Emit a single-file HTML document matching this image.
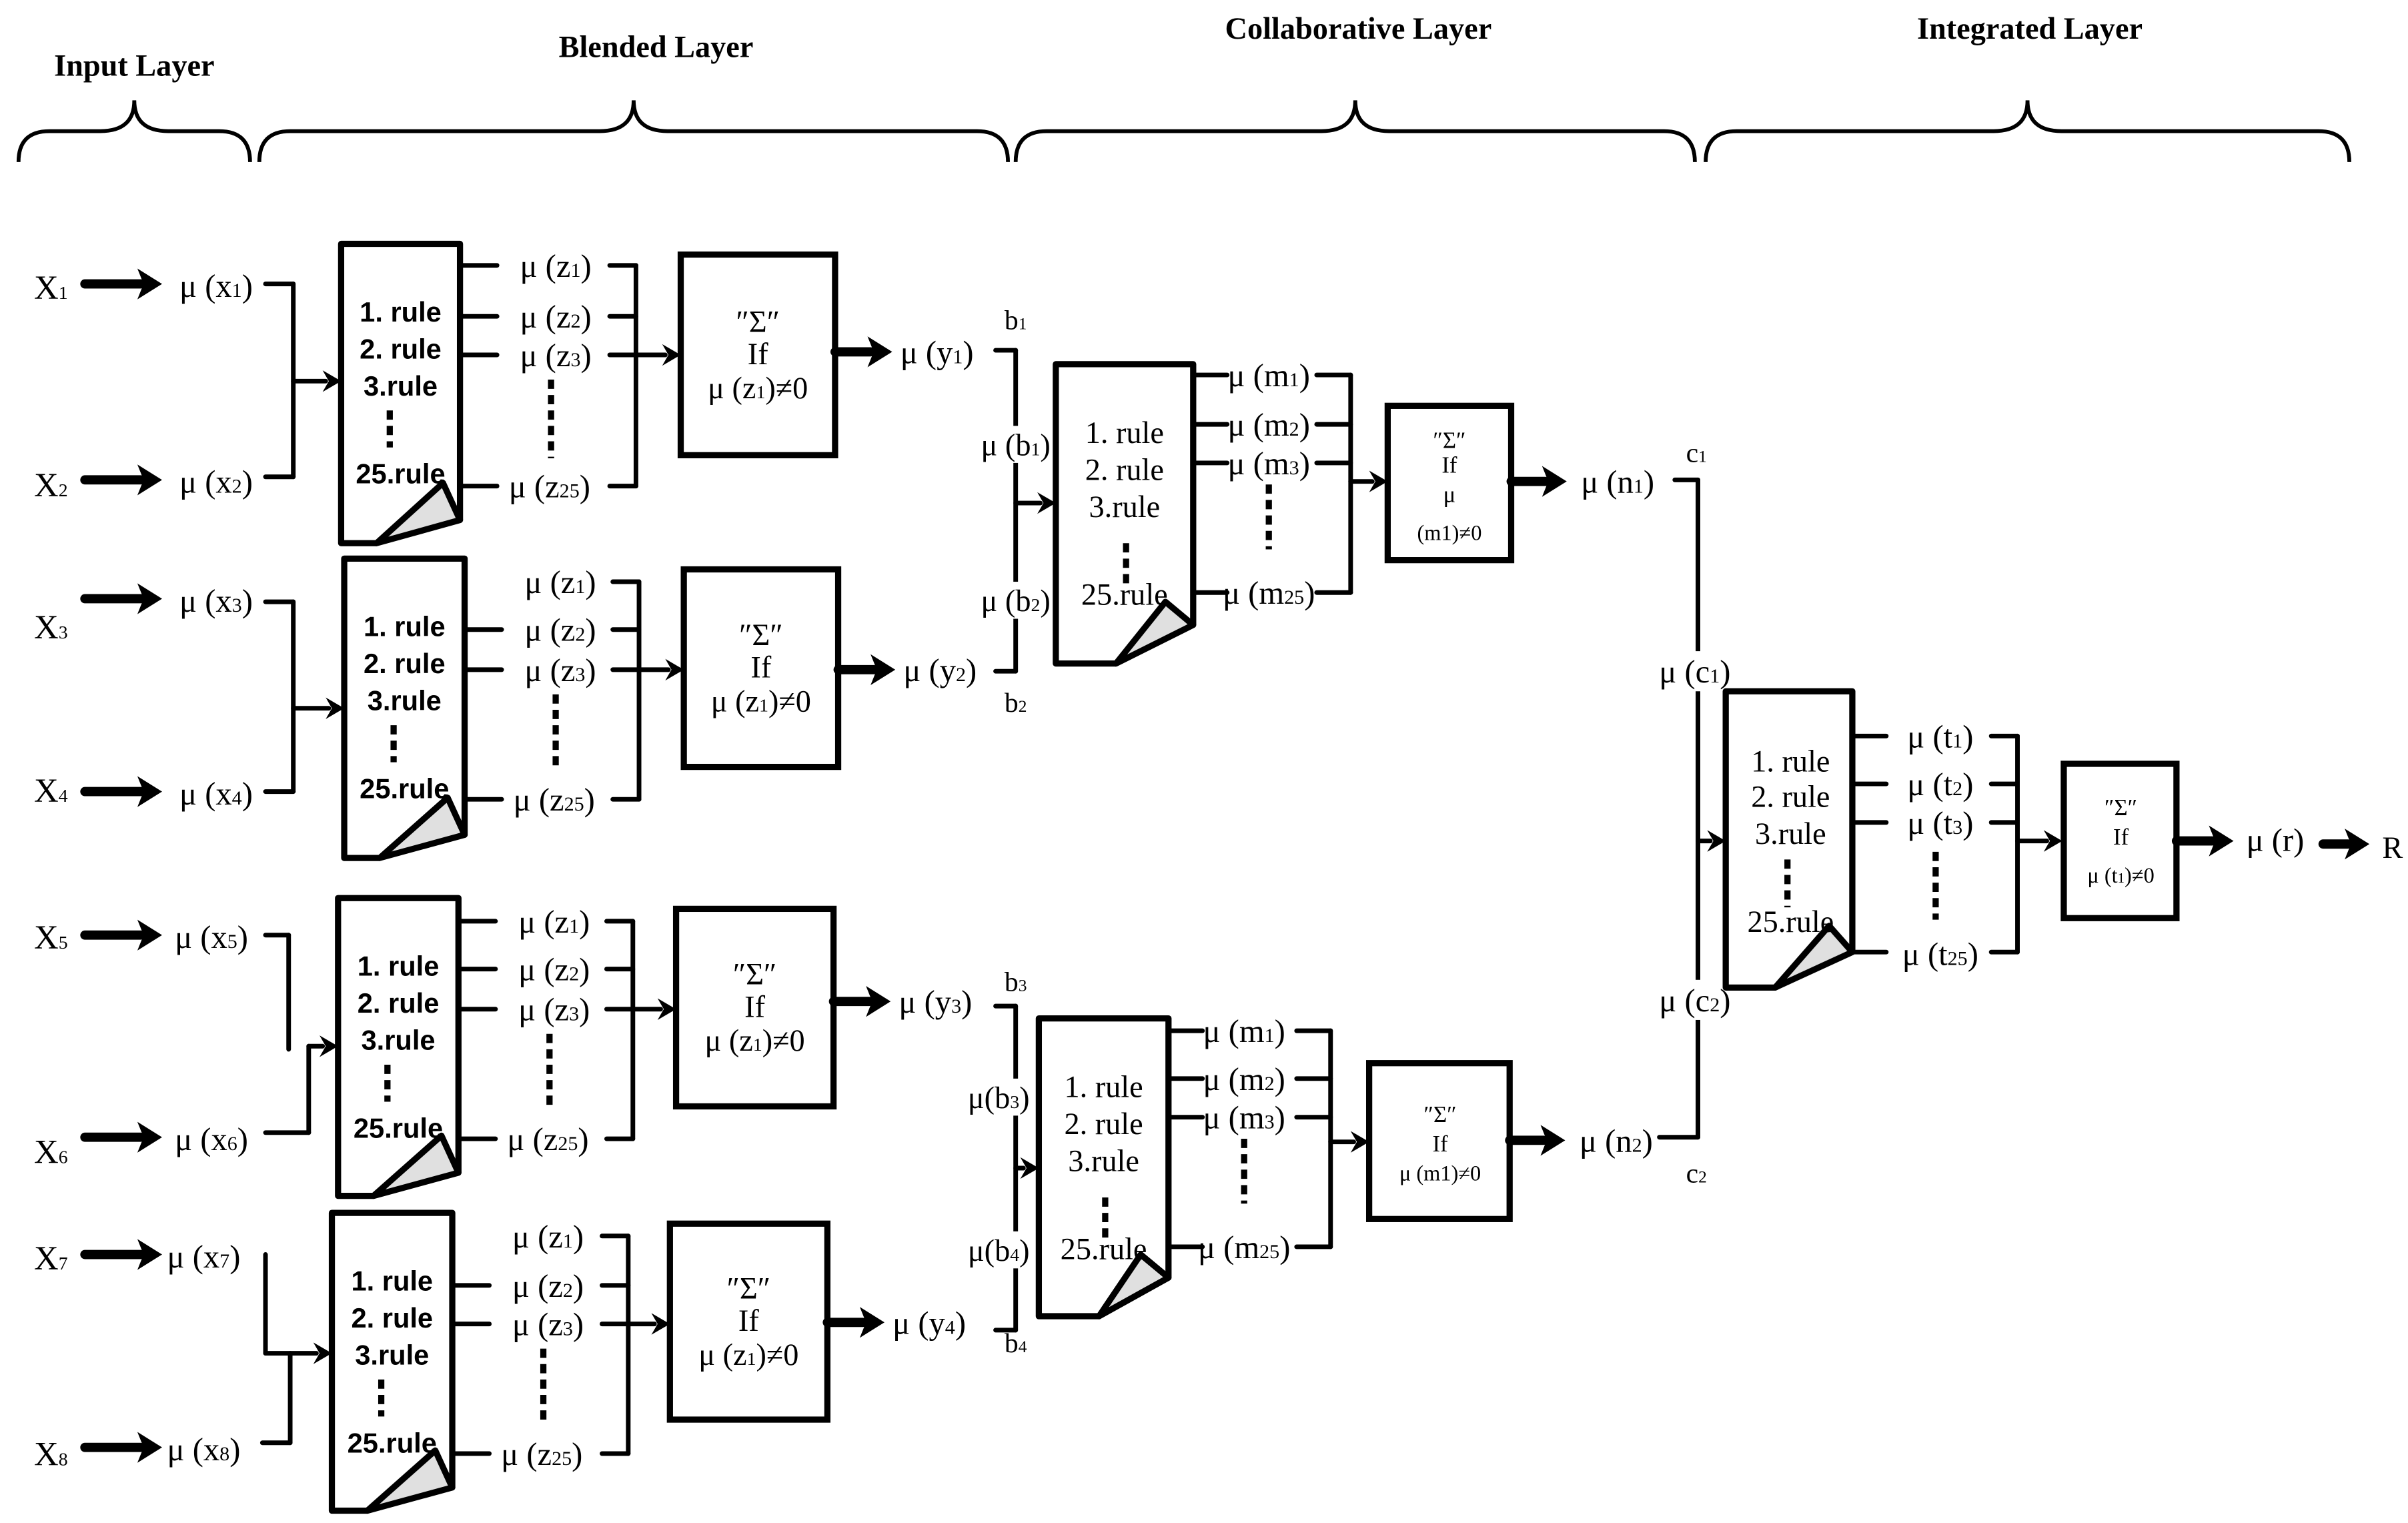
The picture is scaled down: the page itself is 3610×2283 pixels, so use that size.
<!DOCTYPE html>
<html><head><meta charset="utf-8"><style>
html,body{margin:0;padding:0;background:#fff;}
svg{display:block;}
</style></head><body>
<svg id="s" xmlns="http://www.w3.org/2000/svg" width="3610" height="2283" viewBox="0 0 1560 987" preserveAspectRatio="none"></svg>
<script>
var o='';
var SERIF='"Liberation Serif", serif', SANS='"Liberation Sans", sans-serif';
function L(x1,y1,x2,y2,w){o+='<line x1="'+x1+'" y1="'+y1+'" x2="'+x2+'" y2="'+y2+'" stroke="#000" stroke-width="'+(w||3)+'" stroke-linecap="round"/>';}
function A(x1,y,x2,thick){var hl=thick?16:12,hh=thick?10:7;L(x1,y,x2-hl+2,y,thick?6:3);o+='<polygon points="'+(x2-hl)+','+(y-hh)+' '+x2+','+y+' '+(x2-hl)+','+(y+hh)+' '+(x2-hl+4)+','+y+'" fill="#000"/>';}
function T(x,y,s,size,fam,wt){size=size||20;o+='<text x="'+x+'" y="'+(y+size*0.35)+'" font-family=\''+(fam||SERIF)+'\' font-size="'+size+'" font-weight="'+(wt||'normal')+'" text-anchor="middle" fill="#000">'+s+'</text>';}
function sub(s,size){return '<tspan font-size="'+size+'">'+s+'</tspan>';}
function mu(x,y,v,sb,size,extra){size=size||21;T(x,y,'μ ('+v+sub(sb,Math.round(size*0.6))+')'+(extra||''),size);}
function D(x,y1,y2){o+='<line x1="'+x+'" y1="'+y1+'" x2="'+x+'" y2="'+y2+'" stroke="#000" stroke-width="4" stroke-dasharray="6,4"/>';}
function doc(x1,y1,x2,y2,fx,tx,ty,ry){
 o+='<path d="M'+fx+','+y2+' L'+x1+','+y2+' L'+x1+','+y1+' L'+x2+','+y1+' L'+x2+','+ry+'" fill="#fff" stroke="#000" stroke-width="4" stroke-linejoin="round"/>';
 o+='<polygon points="'+fx+','+y2+' '+tx+','+ty+' '+x2+','+ry+'" fill="#e0e0e0" stroke="#000" stroke-width="4" stroke-linejoin="round"/>';}
function box(x1,y1,x2,y2){o+='<rect x="'+x1+'" y="'+y1+'" width="'+(x2-x1)+'" height="'+(y2-y1)+'" fill="#fff" stroke="#000" stroke-width="4"/>';}
function brace(x1,x2){var m=(x1+x2)/2;o+='<path d="M'+x1+',105 Q'+x1+',85 '+(x1+20)+',85 L'+(m-22)+',85 Q'+m+',85 '+m+',65 Q'+m+',85 '+(m+22)+',85 L'+(x2-20)+',85 Q'+x2+',85 '+x2+',105" fill="none" stroke="#000" stroke-width="2.5"/>';}
function X(x,y,n){T(x,y,'X'+sub(n,12),22);}
function rules(x,ys,dx,dy1,dy2,y25,fam,wt,sz){T(x,ys[0],'1. rule',sz,fam,wt);T(x,ys[1],'2. rule',sz,fam,wt);T(x,ys[2],'3.rule',sz,fam,wt);D(dx,dy1,dy2);T(x,y25,'25.rule',sz,fam,wt);}

T(87,42,'Input Layer',20,SERIF,'bold');T(425,30,'Blended Layer',20,SERIF,'bold');T(880,18,'Collaborative Layer',20,SERIF,'bold');T(1315,18,'Integrated Layer',20,SERIF,'bold');
brace(12,162);brace(168,653);brace(658,1098);brace(1105,1522);

function blend(c){
 X(33,c.x1y,c.n1);A(55,c.a1,105,1);mu(c.mx,c.a1+1,'x',c.n1);
 X(33,c.x2y,c.n2);A(55,c.a2,105,1);mu(c.mx,c.a2+1,'x',c.n2);
 doc(c.dx1,c.dy1,c.dx2,c.dy2,c.dx1+23,c.dx2-11,c.dy2-39,c.dy2-15);
 var rx=(c.dx1+c.dx2)/2;
 rules(rx,[c.dy1+44,c.dy1+68,c.dy1+92],rx-7,c.dy1+108,c.dy1+132,c.dy1+149,SANS,'bold',18);
 var z=c.z;
 if(c.z1line)L(c.dx2,z[0],c.dx2+24,z[0]);
 for(var i=1;i<4;i++)L(c.dx2,z[i],c.dx2+24,z[i]);
 var lx=c.dx2+62;
 mu(lx,z[0],'z','1');mu(lx,z[1],'z','2');mu(lx,z[2],'z','3');mu(lx-4,z[3],'z','25');
 D(lx-3,z[2]+16,z[3]-18);
 var bx=c.bx;
 for(i=0;i<4;i++)L(bx-17,z[i],bx,z[i]);
 L(bx,z[0],bx,z[3]);A(bx,z[2],c.b1);
 box(c.b1,c.by1,c.b2,c.by2);var cx=(c.b1+c.b2)/2,cy=(c.by1+c.by2)/2;
 T(cx,cy-22,'″Σ″',20);T(cx,cy-1,'If',20);mu(cx,cy+21,'z','1',20,'≠0');
 A(c.b2,c.yo,c.b2+37,1);mu(c.b2+66,c.yo,'y',c.yn);
}
blend({n1:'1',n2:'2',x1y:186,x2y:314,a1:184,a2:311,mx:140,dx1:221,dy1:158,dx2:298,dy2:352,z:[172,205,230,315],z1line:1,bx:412,b1:441,b2:541,by1:165,by2:295,yo:228,yn:'1'});
blend({n1:'3',n2:'4',x1y:406,x2y:512,a1:388,a2:513,mx:140,dx1:223,dy1:362,dx2:301,dy2:556,z:[377,408,434,518],z1line:0,bx:414,b1:443,b2:543,by1:369,by2:497,yo:434,yn:'2'});
blend({n1:'5',n2:'6',x1y:607,x2y:746,a1:606,a2:737,mx:137,dx1:219,dy1:582,dx2:297,dy2:775,z:[597,628,654,738],z1line:1,bx:410,b1:438,b2:540,by1:589,by2:717,yo:649,yn:'3'});
blend({n1:'7',n2:'8',x1y:815,x2y:942,a1:813,a2:938,mx:132,dx1:215,dy1:786,dx2:293,dy2:979,z:[801,833,858,942],z1line:0,bx:407,b1:434,b2:536,by1:793,by2:920,yo:857,yn:'4'});
L(172,184,190,184);L(172,309,190,309);L(190,184,190,309);A(190,247,221);
L(172,390,190,390);L(172,513,190,513);L(190,390,190,513);A(190,459,223);
L(172,606,187,606);L(187,606,187,680);L(172,734,200,734);L(200,734,200,678);A(200,678,219);
L(172,813,172,877);A(172,877,215);L(170,935,188,935);L(188,935,188,877);

function collab(c){
 T(658,c.bt,c.bl,18);L(645,c.y1,658,c.y1);L(645,c.y2,658,c.y2);L(658,c.y1,658,c.y2);
 o+='<rect x="630" y="'+(c.l1-12)+'" width="56" height="24" fill="#fff"/><rect x="630" y="'+(c.l2-12)+'" width="56" height="24" fill="#fff"/>';
 T(c.lx,c.l1,c.t1,20);T(c.lx,c.l2,c.t2,20);
 A(658,c.ay,c.dx1);
 T(658,c.bb,c.bbl,18);
 doc(c.dx1,c.dy1,c.dx2,c.dy2,c.dx1+39,c.dx2-18,c.dy2-40,c.dy2-25);
 var rx=(c.dx1+c.dx2)/2;
 rules(rx,[c.dy1+44,c.dy1+68,c.dy1+92],rx+1,c.dy1+116,c.dy1+145,c.dy1+149,SERIF,'normal',20);
 var m=c.m;for(var i=0;i<4;i++)L(c.dx2,m[i],c.dx2+22,m[i]);
 var lx=c.dx2+49;mu(lx,m[0],'m','1');mu(lx,m[1],'m','2');mu(lx,m[2],'m','3');mu(lx,m[3],'m','25');
 D(lx,m[2]+14,m[3]-28);
 var bx=c.bx;for(i=0;i<4;i++)L(bx-22,m[i],bx,m[i]);L(bx,m[0],bx,m[3]);A(bx,c.ay2,c.b1);
 box(c.b1,c.by1,c.b2,c.by2);
 c.txt();
 A(c.b2,c.yo,c.b2+36,1);mu(c.b2+69,c.yo,'n',c.nn);
}
collab({bt:207,bl:'b'+sub('1',11),y1:227,y2:435,l1:288,l2:389,lx:658,t1:'μ (b'+sub('1',12)+')',t2:'μ (b'+sub('2',12)+')',ay:326,bb:455,bbl:'b'+sub('2',11),dx1:684,dy1:236,dx2:773,dy2:430,m:[243,275,300,384],bx:875,ay2:312,b1:899,b2:979,by1:263,by2:363,yo:312,nn:'1',
 txt:function(){T(939,285,'″Σ″',15);T(939,301,'If',15);T(939,320,'μ',15);T(939,345,'(m1)≠0',14);}});
collab({bt:636,bl:'b'+sub('3',11),y1:652,y2:862,l1:711,l2:810,lx:647,t1:'μ(b'+sub('3',12)+')',t2:'μ(b'+sub('4',12)+')',ay:757,bb:870,bbl:'b'+sub('4',11),dx1:673,dy1:660,dx2:757,dy2:853,m:[668,699,724,808],bx:862,ay2:740,b1:887,b2:978,by1:689,by2:790,yo:739,nn:'2',
 txt:function(){T(933,722,'″Σ″',15);T(933,741,'If',15);T(933,760,'μ (m1)≠0',14);}});
T(1099,293,'c'+sub('1',11),18);T(1099,760,'c'+sub('2',11),18);
L(1085,311,1100,311);L(1075,737,1100,737);L(1100,311,1100,737);
o+='<rect x="1070" y="422" width="56" height="26" fill="#fff"/><rect x="1070" y="635" width="56" height="26" fill="#fff"/>';
mu(1098,435,'c','1');mu(1098,648,'c','2');
A(1100,545,1118);
doc(1118,448,1200,640,1150,1185,600,617);
rules(1160,[493,516,540],1158,557,588,597,SERIF,'normal',20);
var t=[477,508,533,617];for(var i=0;i<4;i++){L(1200,t[i],1222,t[i]);L(1290,t[i],1307,t[i]);}
mu(1257,477,'t','1');mu(1257,508,'t','2');mu(1257,533,'t','3');mu(1257,618,'t','25');D(1254,552,596);
L(1307,477,1307,617);A(1307,545,1336);
box(1337,495,1410,595);T(1374,523,'″Σ″',15);T(1374,542,'If',15);T(1374,567,'μ (t'+sub('1',9)+')≠0',14);
A(1410,545,1447,1);T(1474,544,'μ (r)',21);A(1505,547,1535,1);T(1550,549,'R',20);
document.getElementById('s').innerHTML=o;
</script>
</body></html>
